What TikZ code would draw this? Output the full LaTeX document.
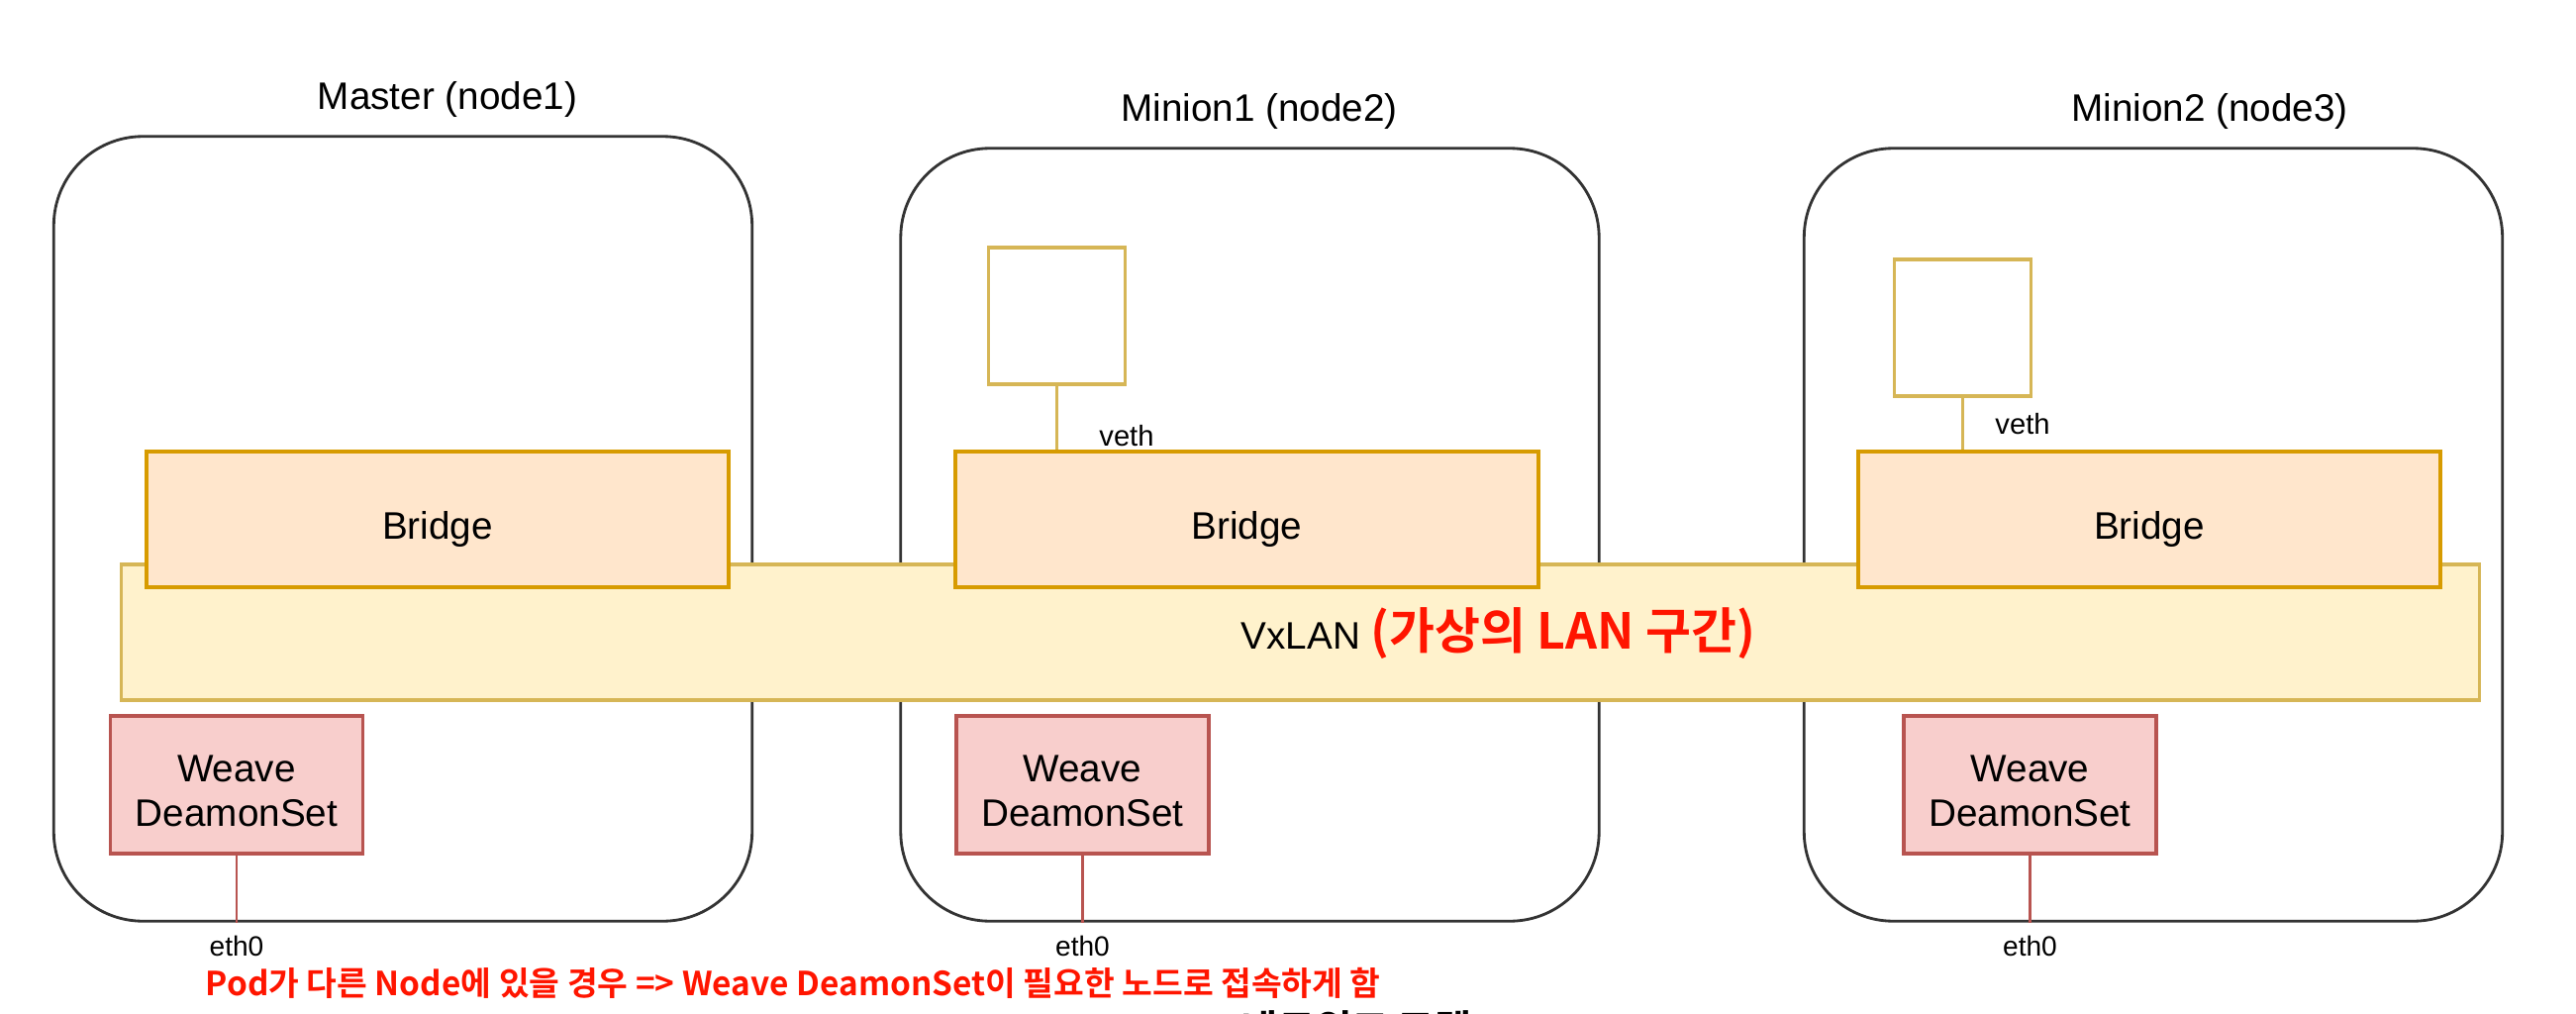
\documentclass[tikz,border=0pt]{standalone}
\usepackage{fontspec}
\setmainfont{Liberation Sans}
\newfontfamily\kofont{Noto Sans CJK KR}[BoldFont=Noto Sans CJK KR Bold]
\definecolor{bridgefill}{HTML}{FFE6CC}
\definecolor{bridgeline}{HTML}{D79B00}
\definecolor{lanfill}{HTML}{FFF2CC}
\definecolor{lanline}{HTML}{D6B656}
\definecolor{weavefill}{HTML}{F8CECC}
\definecolor{weaveline}{HTML}{B85450}
\definecolor{notered}{HTML}{FF1500}
\begin{document}
\begin{tikzpicture}[x=0.01cm,y=-0.01cm,
    hostbox/.style={draw=black!80,line width=0.8pt,rounded corners=0.9cm,minimum width=7.05cm},
    lanbox/.style={draw=lanline,fill=lanfill,line width=1pt,minimum width=23.81cm,minimum height=1.37cm},
    bridgebox/.style={draw=bridgeline,fill=bridgefill,line width=1.1pt,minimum width=5.88cm,minimum height=1.37cm,font=\fontsize{11pt}{13pt}\selectfont},
    podbox/.style={draw=lanline,fill=white,line width=1pt,minimum width=1.38cm,minimum height=1.38cm},
    weavebox/.style={draw=weaveline,fill=weavefill,line width=1pt,minimum width=2.55cm,minimum height=1.39cm,align=center,font=\fontsize{11pt}{12.8pt}\selectfont},
    label/.style={inner sep=0pt,font=\fontsize{11pt}{13pt}\selectfont},
    smalllabel/.style={inner sep=0pt,font=\fontsize{8.3pt}{10pt}\selectfont},
    vethwire/.style={draw=lanline,line width=0.8pt},
    ethwire/.style={draw=weaveline,line width=0.8pt}]
    \useasboundingbox (0,0) rectangle (2602,1024); % page frame of the reference
    \clip (0,0) rectangle (2602,1024);

    \foreach \i/\cx/\cy/\h/\tx/\ty/\name in {1/407/534/7.92/452/100/Master (node1),
        2/1262.5/540/7.8/1272/112/Minion1 (node2),3/2175/540/7.8/2232/112/Minion2 (node3)}{%
      \node[hostbox,minimum height=\h cm] (host\i) at (\cx,\cy) {};
      \node[label] (title\i) at (\tx,\ty) {\name};
    }

    \node[lanbox] (vxlan) at (1313.5,638.5) {};% the shared overlay network
    \node[label,anchor=west] (vxlantext) at (1253,640)
      {VxLAN \textcolor{notered}{\kofont\bfseries\fontsize{14.2pt}{16pt}\selectfont (가상의 LAN 구간)}};

    \foreach \i/\cx in {1/442,2/1259.5,3/2171}
      \node[bridgebox] (bridge\i) at (\cx,524.5) {\rule{0pt}{0.48cm}Bridge};

    \foreach \i/\cx/\cy/\vx/\vy in {2/1067.5/319/1138/440,3/1982.5/331/2043/428}{% pods with veth
      \node[podbox] (pod\i) at (\cx,\cy) {};
      \draw[vethwire] (pod\i.south) -- (pod\i.south |- bridge\i.north);
      \node[smalllabel] (veth\i) at (\vx,\vy) {veth};
    }

    \foreach \i/\cx in {1/239,2/1093.5,3/2050.5}{% weave agents and eth0
      \node[weavebox] (weave\i) at (\cx,792.5) {\rule{0pt}{0.4cm}Weave\\DeamonSet};
      \draw[ethwire] (weave\i.south) -- (weave\i.south |- host\i.south);
      \node[smalllabel,font=\fontsize{8pt}{10pt}\selectfont] (eth\i) at (\cx,955) {eth0};
    }

    \node[inner sep=0pt,anchor=west,text=notered,font=\kofont\bfseries\fontsize{9.5pt}{11pt}\selectfont] (note) at (207,993)
      {Pod가 다른 Node에 있을 경우 => Weave DeamonSet이 필요한 노드로 접속하게 함};
    \node[inner sep=0pt,anchor=north,font=\kofont\bfseries\fontsize{11.5pt}{13pt}\selectfont] (caption) at (1370,1020)
      {네트워크 모델};
\end{tikzpicture}
\end{document}
